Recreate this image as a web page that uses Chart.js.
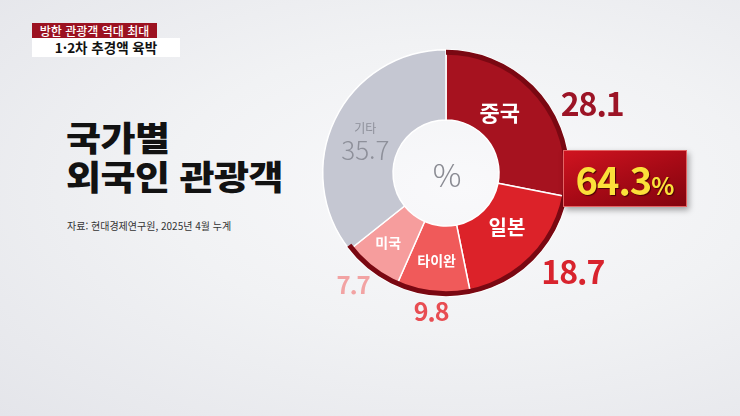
<!DOCTYPE html>
<html lang="ko">
<head>
<meta charset="utf-8">
<script src="https://cdn.jsdelivr.net/npm/chart.js@4.4.1/dist/chart.umd.min.js"></script>
<style>
  html, body { margin: 0; padding: 0; }
  body {
    width: 740px; height: 416px; overflow: hidden; position: relative;
    font-family: "Noto Sans CJK KR", "Noto Sans", sans-serif;
    background: radial-gradient(ellipse at 62% 45%, #f9f9fb 0%, #f1f2f4 45%, #e4e5ea 100%);
  }
  #chart { position: absolute; left: 0; top: 0; }
  .tag1 {
    position: absolute; left: 32px; top: 23px; width: 125px; height: 15px;
    background: #9c1221; color: #fff; font-size: 12px; line-height: 15px;
    text-align: center; font-weight: 500;
  }
  .tag2 {
    position: absolute; left: 32px; top: 38px; width: 148px; height: 19px;
    background: #fff; color: #111; font-size: 13.5px; font-weight: 700;
    line-height: 19px; text-align: center;
  }
  .title {
    position: absolute; left: 66px; top: 117px; font-size: 34px; font-weight: 900;
    line-height: 39px; color: #121212; letter-spacing: -0.5px;
    transform: scaleX(1.12); transform-origin: left top;
  }
  .source { position: absolute; left: 67px; top: 218px; font-size: 10px; color: #333; }
  .total {
    position: absolute; left: 563px; top: 150px; width: 122px; height: 55px;
    background: linear-gradient(160deg, #d01420 0%, #a80a16 50%, #82040e 100%);
    border: 1px solid #e46464; box-shadow: 2px 3px 6px rgba(0,0,0,0.35);
    text-align: center; line-height: 55px; color: #fbe03a; font-weight: 700;
    text-shadow: 1px 1px 1px #4a0006;
  }
  .total .num { font-size: 38px; letter-spacing: -1px; }
  .total .pct { font-size: 24px; }
</style>
</head>
<body>
<div class="tag1">방한 관광객 역대 최대</div>
<div class="tag2">1·2차 추경액 육박</div>
<div class="title">국가별<br>외국인 관광객</div>
<div class="source">자료: 현대경제연구원, 2025년 4월 누계</div>
<canvas id="chart" width="740" height="416"></canvas>
<div class="total"><span class="num" id="totalNum"></span><span class="pct">%</span></div>
<script>
// 데이터
const countries = ["중국", "일본", "타이완", "미국", "기타"];
const shares = [28.1, 18.7, 9.8, 7.7, 35.7];

// 스타일
const sliceColors = ["#a6121f", "#dc2229", "#f05a5a", "#f69d9d", "#c5c7d2"];
const valueColors = ["#9c1426", "#d8232d", "#e84d52", "#f2a3a3"];
const innerFont = [22, 20, 14, 14, 12];
const innerShift = [-9, -3, 0, 2, -3];      // 도
const innerFrac = [0.40, 0.41, 0.50, 0.535, 0.49];
const outerShift = [14, -7, 0, 2];
const outerFont = [32, 32, 25, 24];

// 합계 (기타 제외)
const total = shares.slice(0, 4).reduce((a, b) => a + b, 0);
document.getElementById("totalNum").textContent = total.toFixed(1);

const deg = Math.PI / 180;

const sliceLabels = {
  id: "sliceLabels",
  afterDatasetsDraw(chart) {
    const ctx = chart.ctx;
    const arcs = chart.getDatasetMeta(0).data;
    const cx = arcs[0].x, cy = arcs[0].y;
    const outer = arcs[0].outerRadius, inner = arcs[0].innerRadius;

    ctx.save();
    // 붉은 테두리
    ctx.beginPath();
    ctx.arc(cx, cy, outer - 2.5, arcs[0].startAngle, arcs[3].endAngle + 0.03);
    ctx.lineWidth = 5;
    ctx.strokeStyle = "#7a0812";
    ctx.stroke();

    ctx.textAlign = "center";
    ctx.textBaseline = "middle";

    // 가운데 %
    ctx.fillStyle = "#8a8b93";
    ctx.font = "300 32px 'Noto Sans CJK KR'";
    ctx.fillText("%", cx + 1, cy + 2);

    arcs.forEach((arc, i) => {
      const a = (arc.startAngle + arc.endAngle) / 2 + innerShift[i] * deg;
      const r = inner + (outer - inner) * innerFrac[i];
      const x = cx + Math.cos(a) * r, y = cy + Math.sin(a) * r;
      if (i < 4) {
        ctx.fillStyle = "#ffffff";
        ctx.font = "700 " + innerFont[i] + "px 'Noto Sans CJK KR'";
        ctx.fillText(countries[i], x, y);

        // 바깥 수치
        const b = (arc.startAngle + arc.endAngle) / 2 + outerShift[i] * deg;
        ctx.font = "700 " + outerFont[i] + "px 'Noto Sans CJK KR'";
        ctx.letterSpacing = "-1px";
        const txt = shares[i].toFixed(1);
        const w = ctx.measureText(txt).width;
        const h = outerFont[i] * 0.75;
        const ext = Math.abs(Math.cos(b)) * w / 2 + Math.abs(Math.sin(b)) * h / 2;
        const ro = outer + 5 + ext;
        ctx.fillStyle = valueColors[i];
        ctx.fillText(txt, cx + Math.cos(b) * ro, cy + Math.sin(b) * ro);
        ctx.letterSpacing = "0px";
      } else {
        ctx.fillStyle = "#8e909a";
        ctx.font = "400 " + innerFont[i] + "px 'Noto Sans CJK KR'";
        ctx.fillText(countries[i], x, y - 11);
        ctx.font = "300 26px 'Noto Sans CJK KR'";
        ctx.fillText(shares[i].toFixed(1), x, y + 11);
      }
    });
    ctx.restore();
  }
};

new Chart(document.getElementById("chart"), {
  type: "doughnut",
  data: {
    labels: countries,
    datasets: [{
      data: shares,
      backgroundColor: sliceColors,
      borderColor: "#ffffff",
      borderWidth: 1.5
    }]
  },
  options: {
    responsive: false,
    animation: false,
    cutout: "43%",
    layout: { padding: { left: 322, right: 170, top: 49, bottom: 119 } },
    plugins: { legend: { display: false }, tooltip: { enabled: false } }
  },
  plugins: [sliceLabels]
});
</script>
</body>
</html>
